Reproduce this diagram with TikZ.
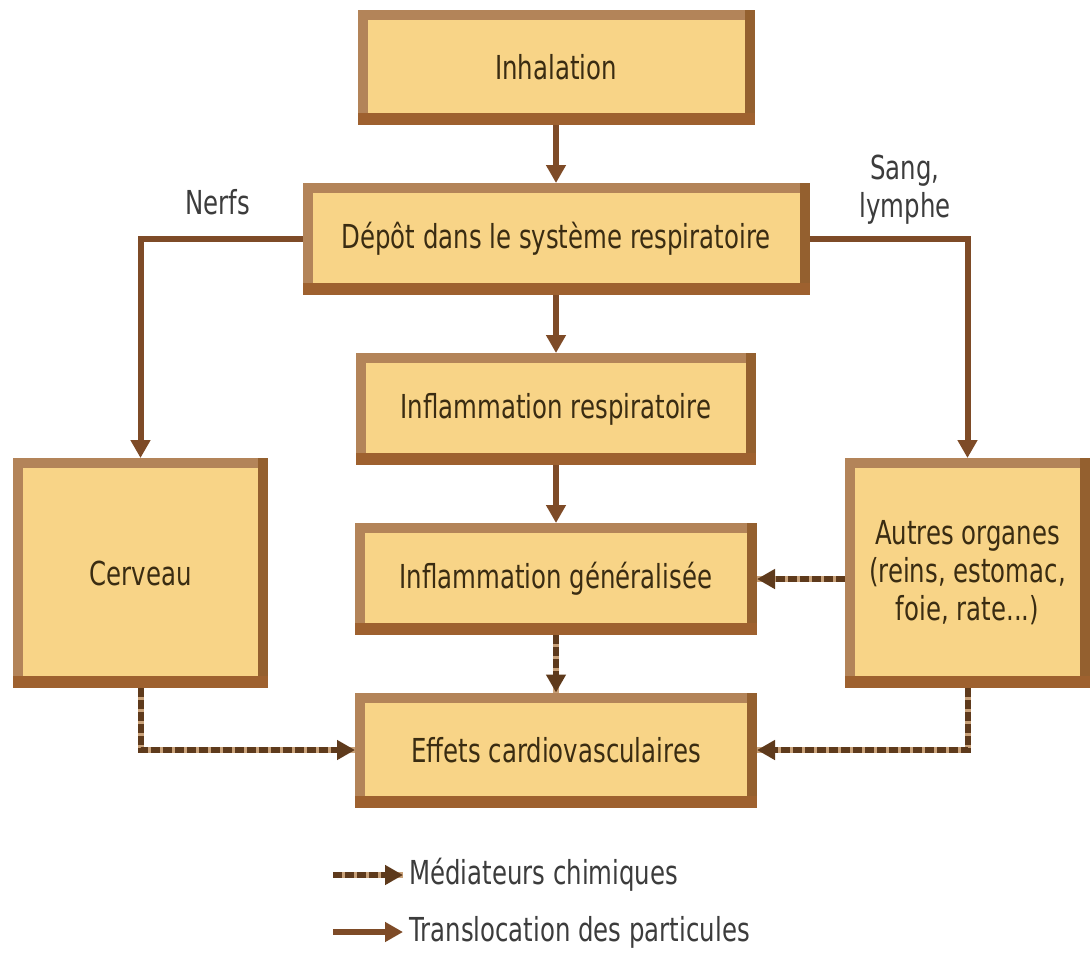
\documentclass[tikz,border=0pt]{standalone}
\usepackage{fontspec}
\setmainfont{DejaVu Sans}[FakeStretch=0.74]
\usetikzlibrary{arrows.meta}
\definecolor{boxfill}{HTML}{F8D487}
\definecolor{boxedge}{HTML}{B38459}
\definecolor{boxdark}{HTML}{9E612F}
\definecolor{boxright}{HTML}{94602F}
\definecolor{arrowc}{HTML}{7E4B27}
\definecolor{dashc}{HTML}{5E3A1C}
\definecolor{gapc}{HTML}{C9A27A}
\definecolor{txt}{HTML}{3A2C12}
\definecolor{lab}{HTML}{3C3C3C}
\begin{document}
\begin{tikzpicture}[x=1pt,y=-1pt,
  box/.style={draw=boxedge, fill=boxfill, line width=10pt, outer sep=5pt, text=txt,
    font=\fontsize{33}{38}\selectfont, align=center, inner sep=0pt},
  lbl/.style={text=lab, font=\fontsize{33}{38}\selectfont, align=center, inner sep=2pt},
  flow/.style={arrowc, line width=6pt, -{Triangle[length=18pt,width=19pt]}},
  chem/.style={dashc, line width=6pt, dash pattern=on 9pt off 3pt,
    preaction={draw=gapc, solid, line width=6pt, -},
    -{Triangle[length=18pt,width=19pt]}}
]
\useasboundingbox (0,0) rectangle (1092,954);
\fill[white] (0,0) rectangle (1092,954);

% boxes
\node[box, minimum width=387pt, minimum height=105pt] (inh) at (556,67.5) {Inhalation};
\node[box, minimum width=497pt, minimum height=102pt] (dep) at (556,239) {Dépôt dans le système respiratoire};
\node[box, minimum width=390pt, minimum height=102pt] (ir) at (556,409) {Inflammation respiratoire};
\node[box, minimum width=392pt, minimum height=102pt] (ig) at (556,579) {Inflammation généralisée};
\node[box, minimum width=392pt, minimum height=105pt] (eff) at (556,750) {Effets cardiovasculaires};
\node[box, minimum width=245pt, minimum height=220pt] (cer) at (140.5,573) {Cerveau};
\node[box, minimum width=235pt, minimum height=220pt] (aut) at (967.5,573) {Autres organes\\(reins, estomac,\\foie, rate...)};

% bevel: darker right and bottom bands
\foreach \n in {inh,dep,ir,ig,eff,cer,aut}{
  \fill[boxright] (\n.south east) rectangle ([xshift=-10pt]\n.north east);
  \fill[boxdark] (\n.south west) rectangle ([yshift=12pt]\n.south east);
}

% labels
\node[lbl] (nerfs) at (218,202) {Nerfs};
\node[lbl] (sang) at (905,190) {Sang,\\lymphe};

% particle translocation
\draw[flow] (inh.south) -- (dep.north);
\draw[flow] (dep.south) -- (ir.north);
\draw[flow] (ir.south) -- (ig.north);
\draw[flow] (dep.west) -| (cer.north);
\draw[flow] (dep.east) -| (aut.north);

% chemical mediators
\draw[chem] (ig.south) -- (eff.north);
\draw[chem] (aut.west |- ig.east) -- (ig.east);
\draw[chem] (cer.south) |- (eff.west);
\draw[chem] (aut.south) |- (eff.east);

% legend
\coordinate (l1) at (333,875);
\coordinate (l2) at (333,932);
\node[lbl, anchor=west, inner sep=6pt] (leg1) at (403,875) {Médiateurs chimiques};
\node[lbl, anchor=west, inner sep=6pt] (leg2) at (403,932) {Translocation des particules};
\draw[chem] (l1) -- (leg1.west);
\draw[flow] (l2) -- (leg2.west);
\end{tikzpicture}
\end{document}
